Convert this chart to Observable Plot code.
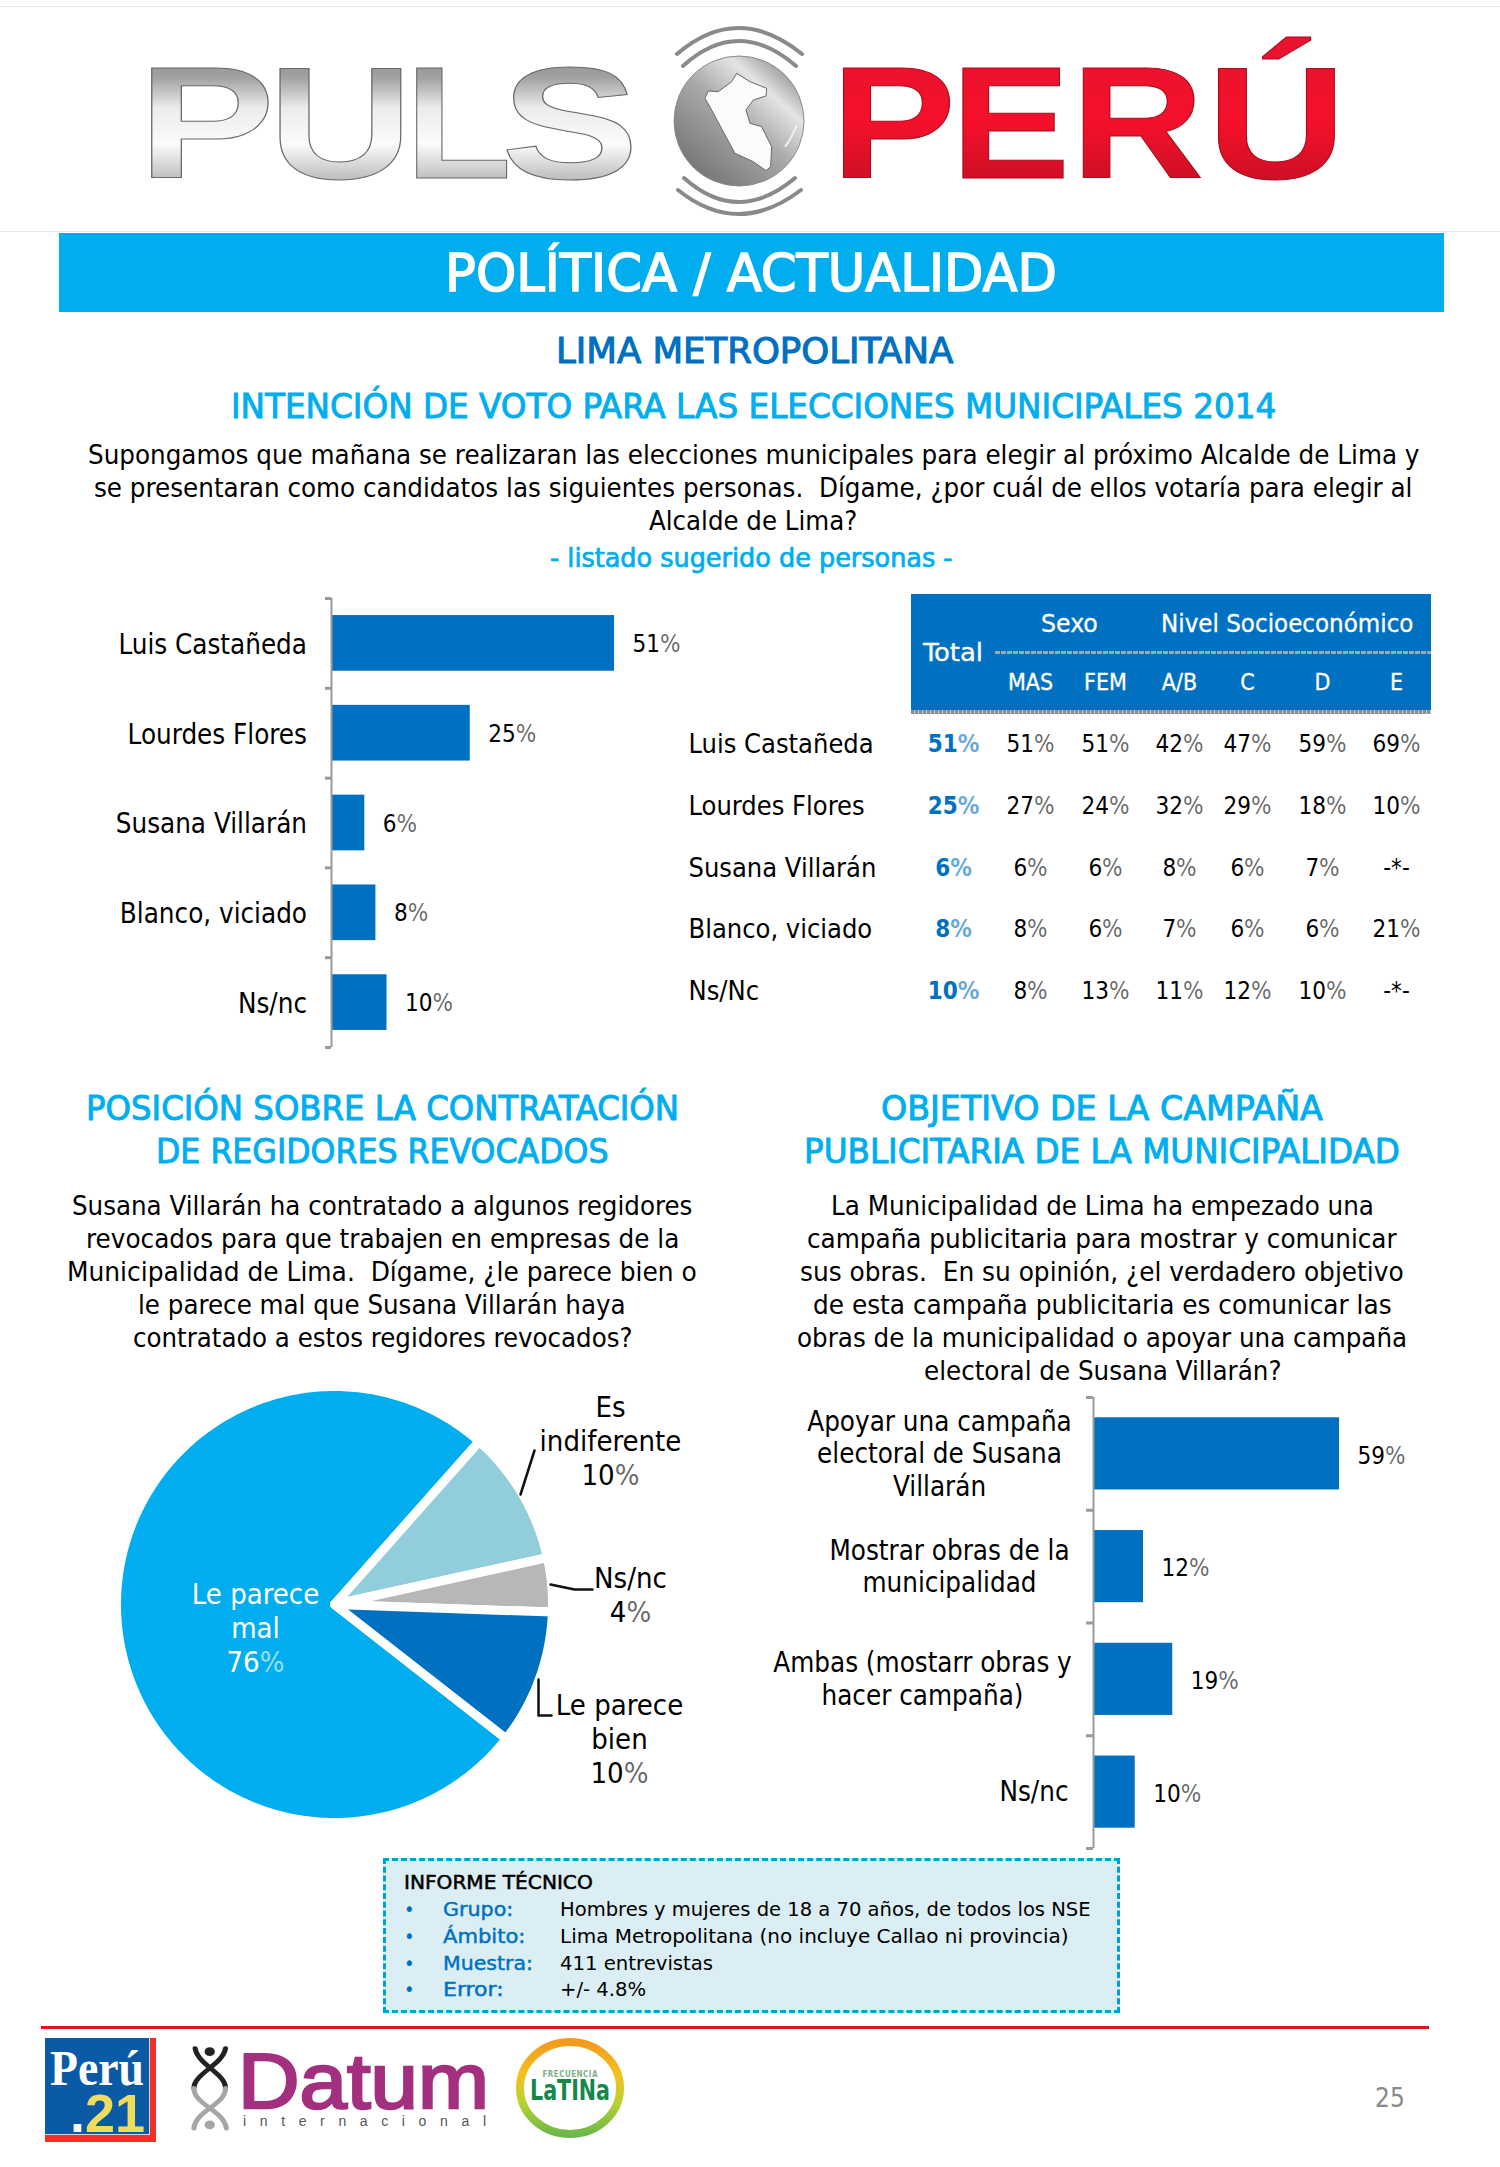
<!DOCTYPE html>
<html lang="es"><head><meta charset="utf-8">
<script src="https://cdn.jsdelivr.net/npm/d3@7"></script>
<script src="https://cdn.jsdelivr.net/npm/@observablehq/plot@0.6"></script>
<style>
html,body{margin:0;padding:0;background:#fff}
#page{position:relative;width:1500px;height:2167px;overflow:hidden;background:#fff;font-family:"DejaVu Sans",sans-serif;font-stretch:condensed}
#page svg{position:absolute;background:transparent!important;max-width:none!important;font-family:"DejaVu Sans",sans-serif;font-stretch:condensed}
.t{position:absolute;white-space:pre;line-height:1;transform-origin:0 50%}
.b{position:absolute}
</style></head><body><div id="page">
<div class="b" style="left:0;top:6px;width:1500px;height:1px;background:#e6e6e6"></div>
<div class="b" style="left:0;top:231px;width:1500px;height:1px;background:#e6e6e6"></div>
<svg id="logo" style="left:0;top:0" width="1500" height="232">
 <defs>
  <linearGradient id="silver" x1="0" x2="0" y1="0" y2="1"><stop offset="0" stop-color="#7d7d7d"/><stop offset=".25" stop-color="#a2a2a2"/><stop offset=".42" stop-color="#ececec"/><stop offset=".62" stop-color="#fbfbfb"/><stop offset=".82" stop-color="#bdbdbd"/><stop offset="1" stop-color="#747474"/></linearGradient>
  <linearGradient id="red" x1="0" x2="0" y1="0" y2="1"><stop offset="0" stop-color="#e8142e"/><stop offset=".5" stop-color="#f4102a"/><stop offset="1" stop-color="#b80f22"/></linearGradient>
  <linearGradient id="globe" x1=".15" y1=".9" x2=".85" y2=".1"><stop offset="0" stop-color="#757575"/><stop offset=".5" stop-color="#a9a9a9"/><stop offset=".8" stop-color="#e4e4e4"/><stop offset="1" stop-color="#9a9a9a"/></linearGradient>
 </defs>
 <g font-size="160" font-weight="700" style="font-family:'Liberation Sans';font-stretch:normal">
  <g fill="url(#silver)" stroke="#6a6a6a" stroke-width="1">
   <text x="138" y="178" textLength="137" lengthAdjust="spacingAndGlyphs">P</text>
   <text x="268" y="178" textLength="145" lengthAdjust="spacingAndGlyphs">U</text>
   <text x="405" y="178" textLength="107" lengthAdjust="spacingAndGlyphs">L</text>
   <text x="501" y="178" textLength="138" lengthAdjust="spacingAndGlyphs">S</text>
  </g>
  <g fill="url(#red)" stroke="#a80d1e" stroke-width="1">
   <text x="831" y="178" textLength="125" lengthAdjust="spacingAndGlyphs">P</text>
   <text x="951" y="178" textLength="119" lengthAdjust="spacingAndGlyphs">E</text>
   <text x="1071" y="178" textLength="133" lengthAdjust="spacingAndGlyphs">R</text>
   <text x="1207" y="178" textLength="139" lengthAdjust="spacingAndGlyphs">Ú</text>
  </g>
 </g>
 <circle cx="739" cy="121" r="65" fill="url(#globe)" stroke="#8a8a8a"/>
 <g transform="translate(640,10) scale(.3333)">
  <path d="M290 190 L330 215 L380 235 L378 258 L340 270 L318 300 L330 340 L365 350 L395 410 L392 470 L378 482 L340 455 L285 430 L255 375 L215 300 L195 265 L205 243 L235 245 L275 215 Z" fill="#fbfbfb" stroke="#666" stroke-width="3"/>
  <path d="M470 345 Q455 385 435 410" fill="none" stroke="#f2f2f2" stroke-width="6"/>
 </g>
 <g fill="none" stroke="#8a8a8a" stroke-width="4" stroke-linecap="round">
  <path d="M677 54 Q738 2 802 54"/><path d="M683 66 Q738 16 796 66"/>
  <path d="M684 178 Q738 226 795 178"/><path d="M678 190 Q738 238 801 190"/>
 </g>
</svg>
<div class="b" style="left:59px;top:233px;width:1385px;height:79px;background:#00AEEF"></div>
<div class="b" style="left:911px;top:594px;width:520px;height:116px;background:#0070C0"></div>
<div class="b" style="left:911px;top:710px;width:520px;height:4px;background:repeating-linear-gradient(90deg,#8c8c8c 0 3px,#c8c8c8 3px 4px)"></div>
<div class="b" style="left:995px;top:651px;width:436px;height:3px;background:repeating-linear-gradient(90deg,#93a9bd 0 5px,#0070C0 5px 6px)"></div>
<div class="b" style="left:383px;top:1858px;width:731px;height:149px;background:#DAEEF3;border:3px dashed #00A0D8"></div>
<div class="b" style="left:41px;top:2026px;width:1388px;height:3px;background:#E2171B"></div>
<div class="b" style="left:45px;top:2038px;width:111px;height:104px;background:#EE3124"></div>
<div class="b" style="left:45px;top:2038px;width:104px;height:96px;background:#0B5AA5;border-right:1px solid #cfd8e0;border-bottom:1px solid #cfd8e0"></div>
<svg id="logos" style="left:0;top:2030px" width="700" height="137">
 <defs><linearGradient id="ring" x1="0" x2="0" y1="0" y2="1"><stop offset="0" stop-color="#F29A1E"/><stop offset=".35" stop-color="#F2C21F"/><stop offset=".65" stop-color="#B9D330"/><stop offset="1" stop-color="#6DB84A"/></linearGradient></defs>
 <text x="50" y="55" font-size="50" fill="#fff" style="font-family:'Liberation Serif';font-stretch:normal" textLength="94" lengthAdjust="spacingAndGlyphs" font-weight="700">Perú</text>
 <text x="145" y="102" font-size="54" font-weight="700" text-anchor="end" fill="#F0DC5A" style="font-family:'Liberation Sans';font-stretch:normal"><tspan fill="#fff">.</tspan>21</text>
 <g transform="translate(30,0) scale(.395,.333)" fill="none" stroke-width="13" stroke-linecap="round">
  <path d="M418 55 C425 105 495 130 495 175" stroke="#222"/><path d="M495 55 C488 105 415 130 415 175" stroke="#222"/>
  <path d="M495 175 C495 225 420 240 415 295" stroke="#a8a5a3"/><path d="M415 175 C415 225 490 240 497 295" stroke="#a8a5a3"/>
  <circle cx="455" cy="65" r="13" fill="#222" stroke="none"/><circle cx="455" cy="285" r="13" fill="#a8a5a3" stroke="none"/>
 </g>
 <text x="238" y="78" font-size="77" fill="#A3307F" stroke="#A3307F" stroke-width="2.5" style="font-family:'Liberation Sans';font-stretch:normal" textLength="251" lengthAdjust="spacingAndGlyphs">Datum</text>
 <text x="243" y="96" font-size="14" fill="#555" style="font-family:'Liberation Sans';font-stretch:normal" textLength="243">internacional</text>
 <ellipse cx="570" cy="58" rx="50" ry="46" fill="#fff" stroke="url(#ring)" stroke-width="8"/>
 <text x="570" y="47" font-size="8" text-anchor="middle" fill="#7fae8b" font-weight="700" textLength="55">FRECUENCIA</text>
 <text x="570" y="70" font-size="28" text-anchor="middle" fill="#14884A" font-weight="700" textLength="80" lengthAdjust="spacingAndGlyphs">LaTINa</text>
</svg>
</div>
<script>
// ---- data ----
const voteCandidates = ["Luis Castañeda","Lourdes Flores","Susana Villarán","Blanco, viciado","Ns/nc"];
const voteValues = [51,25,6,8,10];
const tableRowNames = ["Luis Castañeda","Lourdes Flores","Susana Villarán","Blanco, viciado","Ns/Nc"];
const tableColumns = ["Total","MAS","FEM","A/B","C","D","E"];
const rowCastaneda = ["51%","51%","51%","42%","47%","59%","69%"];
const rowFlores = ["25%","27%","24%","32%","29%","18%","10%"];
const rowVillaran = ["6%","6%","6%","8%","6%","7%","-*-"];
const rowBlanco = ["8%","8%","6%","7%","6%","6%","21%"];
const rowNsNc = ["10%","8%","13%","11%","12%","10%","-*-"];
const pieLabels = ["Le parece\nmal","Es\nindiferente","Ns/nc","Le parece\nbien"];
const pieValues = [76,10,4,10];
const campaignLabels = ["Apoyar una campaña\nelectoral de Susana\nVillarán","Mostrar obras de la\nmunicipalidad","Ambas (mostarr obras y\nhacer campaña)","Ns/nc"];
const campaignValues = [59,12,19,10];

// ---- html text ----
const page = document.getElementById("page");
function T(txt,x,y,size,o={}){
  const e=document.createElement("div");e.className="t";e.textContent=txt;
  e.style.fontSize=size+"px";e.style.color=o.color||"#000";e.style.fontWeight=o.weight||400;
  if(o.stroke){e.style.webkitTextStroke=o.stroke+"px "+(o.color||"#000")}
  page.appendChild(e);
  const w0=e.offsetWidth, w=o.w||w0, k=w/w0;
  const left=o.anchor==="start"?x:o.anchor==="end"?x-w:x-w/2;
  e.style.left=left+"px";e.style.top=(y-size/2-1)+"px";
  e.style.transform=`scaleX(${k})`;
}
const sky="#00AEEF", blue="#0070C0";
T("POLÍTICA / ACTUALIDAD",751,274,52,{color:"#fff",w:612,stroke:1.4});
T("LIMA METROPOLITANA",754,352,36,{color:blue,w:397,stroke:1});
T("INTENCIÓN DE VOTO PARA LAS ELECCIONES MUNICIPALES 2014",753,407,34,{color:sky,w:1045,stroke:.9});
[["Supongamos que mañana se realizaran las elecciones municipales para elegir al próximo Alcalde de Lima y",455,1331],
 ["se presentaran como candidatos las siguientes personas.  Dígame, ¿por cuál de ellos votaría para elegir al",488,1318],
 ["Alcalde de Lima?",521,208]].forEach(([s,y,w])=>T(s,753,y,27,{w}));
T("- listado sugerido de personas -",751,558,27,{color:sky,stroke:.7,w:403});
T("POSICIÓN SOBRE LA CONTRATACIÓN",382,1109,34,{color:sky,stroke:.9,w:593});
T("DE REGIDORES REVOCADOS",382,1152,34,{color:sky,stroke:.9,w:453});
T("OBJETIVO DE LA CAMPAÑA",1102,1109,34,{color:sky,stroke:.9,w:442});
T("PUBLICITARIA DE LA MUNICIPALIDAD",1102,1152,34,{color:sky,stroke:.9,w:596});
[["Susana Villarán ha contratado a algunos regidores",1206,620],
 ["revocados para que trabajen en empresas de la",1239,593],
 ["Municipalidad de Lima.  Dígame, ¿le parece bien o",1272,630],
 ["le parece mal que Susana Villarán haya",1305,488],
 ["contratado a estos regidores revocados?",1338,499]].forEach(([s,y,w])=>T(s,382,y,27,{w}));
[["La Municipalidad de Lima ha empezado una",1206,543],
 ["campaña publicitaria para mostrar y comunicar",1239,590],
 ["sus obras.  En su opinión, ¿el verdadero objetivo",1272,604],
 ["de esta campaña publicitaria es comunicar las",1305,579],
 ["obras de la municipalidad o apoyar una campaña",1338,610],
 ["electoral de Susana Villarán?",1371,357]].forEach(([s,y,w])=>T(s,1102,y,27,{w}));
T("Total",953,654,24,{color:"#fff",w:60,stroke:.3});
T("Sexo",1069,625,24,{color:"#fff",w:57,stroke:.3});
T("Nivel Socioeconómico",1287,625,24,{color:"#fff",w:252,stroke:.3});
T("INFORME TÉCNICO",404,1883,20,{anchor:"start",w:189,stroke:.5});
[["Grupo:","Hombres y mujeres de 18 a 70 años, de todos los NSE",1910,70,531],
 ["Ámbito:","Lima Metropolitana (no incluye Callao ni provincia)",1937,82,509],
 ["Muestra:","411 entrevistas",1964,90,153],
 ["Error:","+/- 4.8%",1990,60,86]].forEach(([a,b,y,wa,wb])=>{
  T("•",404,y,20,{color:blue,anchor:"start"});
  T(a,443,y,20,{color:blue,stroke:.4,anchor:"start",w:wa});
  T(b,560,y,20,{anchor:"start",w:wb});
});
T("25",1390,2099,26,{color:"#8a8a8a"});

// ---- plots ----
function put(svg,left,top){svg.style.left=left+"px";svg.style.top=top+"px";page.appendChild(svg);
  // thin % sign, as in the original
  const walker=document.createTreeWalker(svg,NodeFilter.SHOW_TEXT);const nodes=[];
  while(walker.nextNode()) if(/\d%$/.test(walker.currentNode.nodeValue)) nodes.push(walker.currentNode);
  nodes.forEach(n=>{const s=n.nodeValue.slice(0,-1);n.nodeValue=s;
    const t=document.createElementNS("http://www.w3.org/2000/svg","tspan");t.textContent="%";t.setAttribute("fill-opacity",".6");
    n.parentNode.insertBefore(t,n.nextSibling);});
}
function barChart({labels,values,pxPerUnit,zeroX,width,height,top,bottom,inset,tick,textDx,labelDx,offsets,labelDy,pctDy}){
  const n=labels.length, idx=d3.range(n), lh=32.5;
  return Plot.plot({width,height,margin:0,style:"background:transparent",
    x:{domain:[0,(width-zeroX)/pxPerUnit],range:[zeroX,width],axis:null},
    y:{domain:[0,n],range:[top,bottom],axis:null},
    marks:[
      Plot.rectX(idx,{x1:0,x2:i=>values[i],y1:i=>i+inset,y2:i=>i+1-inset,fill:blue}),
      Plot.ruleX([0],{y1:0,y2:n,stroke:"#9a9a9a",strokeWidth:2}),
      Plot.ruleY(d3.range(n+1),{x1:-tick/pxPerUnit,x2:0,stroke:"#9a9a9a",strokeWidth:3}),
      ...idx.flatMap(i=>{const lines=labels[i].split("\n");return lines.map((s,j)=>
        Plot.text([s],{x:0,y:i+.5,dx:(offsets?offsets[i]:textDx),dy:labelDy+(j-(lines.length-1)/2)*lh,textAnchor:offsets&&i<3?"middle":"end",lineAnchor:"middle",fontSize:27.5,fill:"#000"}));}),
      Plot.text(idx,{x:i=>values[i],y:i=>i+.5,dx:labelDx,dy:pctDy,text:i=>values[i]+"%",textAnchor:"start",lineAnchor:"middle",fontSize:24,fill:"#000"})
    ]});
}
put(barChart({labels:voteCandidates,values:voteValues,pxPerUnit:5.55,zeroX:331,width:700,height:1060-590,top:8,bottom:457,inset:.19,tick:6,textDx:-24.5,labelDx:18,labelDy:1.5,pctDy:1}),0,590);
put(barChart({labels:campaignLabels,values:campaignValues,pxPerUnit:4.17,zeroX:353,width:700,height:480,top:17,bottom:468,inset:.18,tick:7,textDx:-25,labelDx:18,offsets:[-154,-144,-171,-25],labelDy:.5,pctDy:2}),740,1380);

const cells=[rowCastaneda,rowFlores,rowVillaran,rowBlanco,rowNsNc].flatMap((r,ri)=>r.map((v,ci)=>({v,ri,ci})));
put(Plot.plot({width:800,height:440,margin:0,style:"background:transparent",
  x:{type:"linear",domain:[0,1,2,3,4,5,6],range:[273,350,425,499,567,642,716],axis:null},
  y:{domain:[-1,4],range:[92,401],axis:null},
  marks:[
    Plot.text(tableColumns.slice(1),{x:(d,i)=>i+1,y:-1,text:d=>d,fontSize:23,fill:"#fff",stroke:"#fff",strokeWidth:.3,lineAnchor:"middle"}),
    Plot.text(tableRowNames,{frameAnchor:"left",y:(d,i)=>i,text:d=>d,dx:8,fontSize:27,fill:"#000",textAnchor:"start",lineAnchor:"middle"}),
    Plot.text(cells.filter(d=>d.ci>0),{x:"ci",y:"ri",text:"v",fontSize:24,lineAnchor:"middle",fill:"#000"}),
    Plot.text(cells.filter(d=>d.ci===0),{x:"ci",y:"ri",text:"v",fontSize:24,fontWeight:700,lineAnchor:"middle",fill:blue})
  ]}),680,590);

// pie
const C=[334,224], R=218;
const arcs=d3.pie().sort(null).startAngle(128*Math.PI/180).endAngle((128+360)*Math.PI/180)(pieValues);
const pieColors=[sky,"#92CDDC","#B7B7B7",blue];
const piePts=arcs.flatMap((a,k)=>{
  const steps=Math.ceil((a.endAngle-a.startAngle)*60), out=[{k,x:C[0],y:C[1]}];
  for(let s=0;s<=steps;s++){const t=a.startAngle+(a.endAngle-a.startAngle)*s/steps;out.push({k,x:C[0]+R*Math.sin(t),y:C[1]-R*Math.cos(t)});}
  out.push({k,x:C[0],y:C[1]},{k,x:C[0]+R*Math.sin(a.startAngle),y:C[1]-R*Math.cos(a.startAngle)});
  return out;});
const pieText=(i,x,y,fill="#000")=>{
  const lines=[...pieLabels[i].split("\n"),pieValues[i]+"%"];
  return Plot.text(lines,{x,y:(d,j)=>y+(j-(lines.length-1)/2)*34,fontSize:29,fill,lineAnchor:"middle"});
};
put(Plot.plot({width:740,height:480,margin:0,style:"background:transparent",
  x:{domain:[0,740],range:[0,740],axis:null},y:{domain:[0,480],range:[0,480],axis:null},
  marks:[
    Plot.line(piePts,{x:"x",y:"y",z:"k",fill:d=>pieColors[d.k],stroke:"#fff",strokeWidth:9,strokeLinejoin:"round",curve:"linear"}),
    pieText(0,255,248,"#fff"),
    pieText(1,610,61),
    pieText(2,630,215),
    pieText(3,619,359),
    Plot.line([[534,70],[520,114]],{x:d=>d[0],y:d=>d[1],stroke:"#111",strokeWidth:2.5}),
    Plot.line([[550,204],[574,209],[592,209]],{x:d=>d[0],y:d=>d[1],stroke:"#111",strokeWidth:2.5}),
    Plot.line([[538,299],[538,335],[551,335]],{x:d=>d[0],y:d=>d[1],stroke:"#111",strokeWidth:2.5})
  ]}),0,1380);
</script></body></html>
